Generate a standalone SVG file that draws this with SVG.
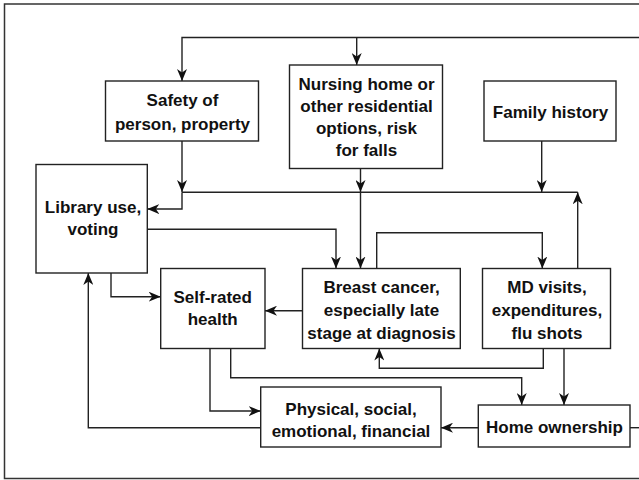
<svg xmlns="http://www.w3.org/2000/svg" width="639" height="480" viewBox="0 0 639 480">
<style>
.box{fill:#fff;stroke:#222;stroke-width:1.4}
.t{font-family:"Liberation Sans",Arial,sans-serif;font-weight:bold;font-size:17px;fill:#111;text-anchor:middle}
.c{fill:none;stroke:#222;stroke-width:1.4}
.a{marker-end:url(#ah)}
</style>
<defs>
<marker id="ah" markerUnits="userSpaceOnUse" viewBox="0 0 12 10" markerWidth="12" markerHeight="10" refX="12" refY="5" orient="auto">
<path d="M0,0 L12,5 L0,10 L3.5,5 z" fill="#111"/>
</marker>
</defs>
<rect width="639" height="480" fill="#fff"/>
<path d="M639,4 H4.5 V478.5 H639" fill="none" stroke="#333" stroke-width="1.5"/>
<g id="connectors">
<path class="c a" d="M639,37.5 H182 V81"/>
<path class="c a" d="M356.7,37.5 V65"/>
<path class="c a" d="M182,141 V192"/>
<path class="c" d="M182,192.3 H577.7"/>
<path class="c a" d="M182,192.3 V209 H147.3"/>
<path class="c a" d="M360.5,168.5 V192"/>
<path class="c a" d="M360.5,192.3 V268.5"/>
<path class="c a" d="M541.7,141 V192"/>
<path class="c a" d="M577.7,268.5 V192.3"/>
<path class="c a" d="M147.3,229.3 H336 V268.5"/>
<path class="c a" d="M376.7,268.5 V232.7 H542.3 V268.5"/>
<path class="c a" d="M302.5,310.7 H265"/>
<path class="c a" d="M111,273 V296.7 H160.7"/>
<path class="c a" d="M210,348.5 V411 H260.7"/>
<path class="c a" d="M230.7,348.5 V377.7 H521.7 V405"/>
<path class="c a" d="M543.3,348.5 V368.3 H379.3 V348.5"/>
<path class="c a" d="M564,348.5 V405"/>
<path class="c a" d="M478.3,427.7 H441"/>
<path class="c a" d="M260.7,427.7 H88.3 V273"/>
<path class="c" d="M630,427.7 H639"/>
</g>
<g id="safety">
<rect class="box" x="105.5" y="81" width="153" height="60"/>
<text class="t" x="182.5" y="106">Safety of</text>
<text class="t" x="182.5" y="129.5">person, property</text>
</g>
<g id="nursing">
<rect class="box" x="289.5" y="65" width="153" height="103.5"/>
<text class="t" x="366.5" y="90">Nursing home or</text>
<text class="t" x="366.5" y="112">other residential</text>
<text class="t" x="366.5" y="134">options, risk</text>
<text class="t" x="366.5" y="156">for falls</text>
</g>
<g id="family">
<rect class="box" x="484" y="81" width="132" height="60"/>
<text class="t" x="550.5" y="118">Family history</text>
</g>
<g id="library">
<rect class="box" x="36" y="164.5" width="111.3" height="108.5"/>
<text class="t" x="93" y="213">Library use,</text>
<text class="t" x="93" y="235">voting</text>
</g>
<g id="selfrated">
<rect class="box" x="160.7" y="268.5" width="104.3" height="80"/>
<text class="t" x="212.7" y="302.5">Self-rated</text>
<text class="t" x="212.7" y="325">health</text>
</g>
<g id="breast">
<rect class="box" x="302.5" y="268.5" width="157.8" height="80"/>
<text class="t" x="381.5" y="293">Breast cancer,</text>
<text class="t" x="381.5" y="316">especially late</text>
<text class="t" x="381.5" y="339">stage at diagnosis</text>
</g>
<g id="md">
<rect class="box" x="482.5" y="268.5" width="128" height="80"/>
<text class="t" x="547" y="293">MD visits,</text>
<text class="t" x="547" y="316">expenditures,</text>
<text class="t" x="547" y="339">flu shots</text>
</g>
<g id="physical">
<rect class="box" x="260.7" y="387" width="180.3" height="60"/>
<text class="t" x="351" y="414.5">Physical, social,</text>
<text class="t" x="351" y="437">emotional, financial</text>
</g>
<g id="home">
<rect class="box" x="478.3" y="405" width="151.7" height="42"/>
<text class="t" x="554.5" y="433">Home ownership</text>
</g>
</svg>
